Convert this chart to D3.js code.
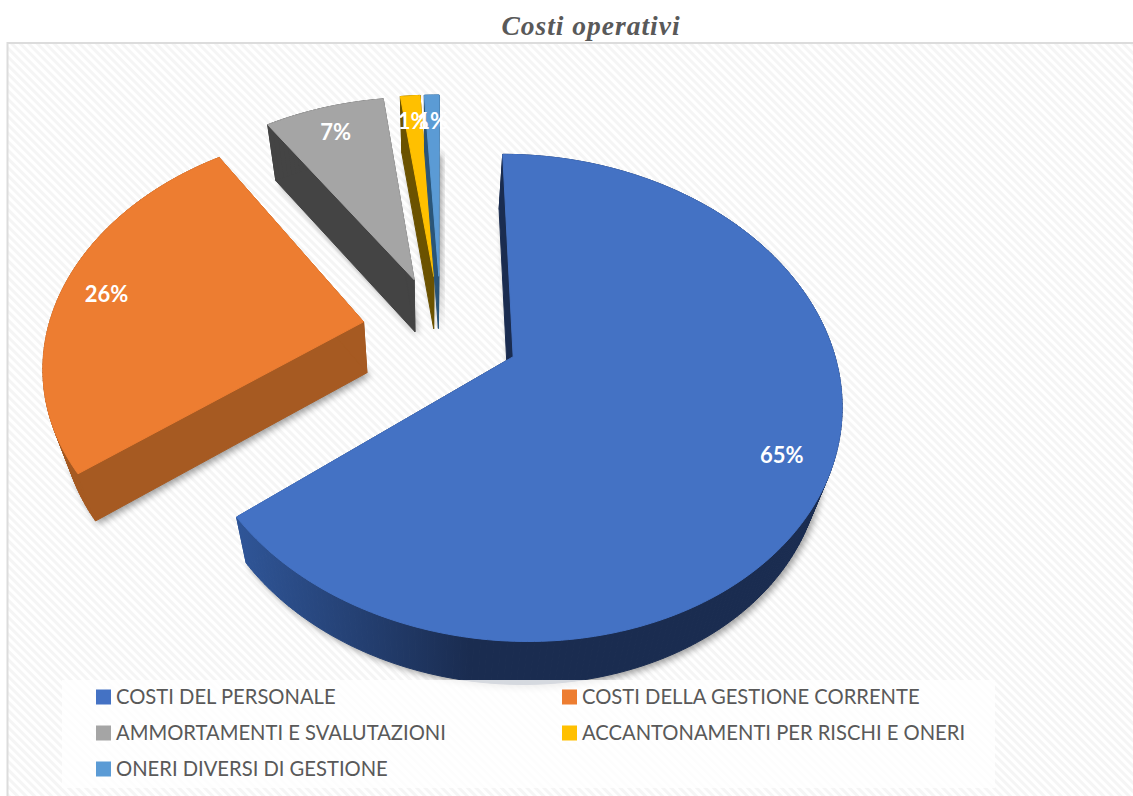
<!DOCTYPE html>
<html><head><meta charset="utf-8">
<script src="https://cdn.jsdelivr.net/npm/d3@7/dist/d3.min.js"></script>
<style>html,body{margin:0;padding:0;background:#fff;overflow:hidden}svg{display:block}</style>
</head><body><svg id="c" width="1133" height="796"></svg>
<script>
const title = "Costi operativi";
const categories = ["COSTI DEL PERSONALE","COSTI DELLA GESTIONE CORRENTE","AMMORTAMENTI E SVALUTAZIONI","ACCANTONAMENTI PER RISCHI E ONERI","ONERI DIVERSI DI GESTIONE"];
const values = [64.6,26.0,7.3,1.2,0.9];
const labels = ["65%","26%","7%","1%","1%"];
const topColors = ["#4472C4","#ED7D31","#A5A5A5","#FFC000","#5B9BD5"];
const wallColors = ["url(#wallBlue)","#A65A22","#444444","#6B5200","#2A5578"];

const svg = d3.select("#c");
const defs = svg.append("defs");
const pat = defs.append("pattern").attr("id","hatch").attr("width",6).attr("height",6)
  .attr("patternUnits","userSpaceOnUse").attr("patternTransform","rotate(-45)");
pat.append("rect").attr("width",6).attr("height",6).attr("fill","#ffffff");
pat.append("rect").attr("width",3).attr("height",6).attr("fill","#f5f5f5");
const grad = defs.append("linearGradient").attr("id","wallBlue").attr("gradientUnits","userSpaceOnUse")
  .attr("x1",240).attr("x2",470).attr("y1",0).attr("y2",0);
grad.append("stop").attr("offset",0).attr("stop-color","#2F5597");
grad.append("stop").attr("offset",1).attr("stop-color","#1A2C50");
defs.append("filter").attr("id","soft").attr("x","-20%").attr("y","-20%").attr("width","140%").attr("height","140%")
  .append("feGaussianBlur").attr("stdDeviation",3.5);

// plot panel
svg.append("rect").attr("x",7.5).attr("y",43).attr("width",1140).attr("height",770)
  .attr("fill","url(#hatch)").attr("stroke","#dcdcdc").attr("stroke-width",2);

svg.append("text").attr("x",591).attr("y",35).attr("text-anchor","middle")
  .attr("font-family","'Liberation Serif',serif").attr("font-style","italic").attr("font-weight","bold")
  .attr("font-size",27.5).attr("letter-spacing",1).attr("fill","#595959").text(title);

// perspective view of the pie plane
const O = {x:441,y:331}, A = 316, B = 228, P = 0.166, EXPLODE = 0.25, LABEL_R = 0.855;
const project = (u,v) => { const w = 1+P*v; return [O.x+A*u/w, O.y-B*v/w]; };
const extrude = ([x,y]) => [x+0.05*(430-x), y+43+(640-y)*0.025];

const arcs = d3.pie().sort(null).startAngle(0).endAngle(2*Math.PI).value(d=>d)(values);
const line = d3.line();
const slices = arcs.map((a,i)=>{
  const mid=(a.startAngle+a.endAngle)/2;
  const cu=EXPLODE*Math.sin(mid), cv=EXPLODE*Math.cos(mid);
  const thetas=d3.range(a.startAngle,a.endAngle,Math.PI/180).concat([a.endAngle]);
  const rim=thetas.map(t=>project(cu+Math.sin(t),cv+Math.cos(t)));
  const outline=[project(cu,cv),...rim];
  const r=LABEL_R;
  return {i,outline,bottom:outline.map(extrude),label:project(cu+r*Math.sin(mid),cv+r*Math.cos(mid))};
});

// soft ground shadow
svg.append("g").selectAll("path").data(slices).join("path")
  .attr("d",d=>line(d.bottom)+"Z").attr("transform","translate(3,3)")
  .attr("fill","#000").attr("opacity",0.38).attr("filter","url(#soft)");

const order=[1,2,3,4,0];
order.forEach(k=>{
  const s=slices[k];
  const g=svg.append("g");
  const n=s.outline.length;
  const quads=d3.range(n).map(j=>{
    const j2=(j+1)%n;
    return [s.outline[j],s.outline[j2],s.bottom[j2],s.bottom[j]];
  });
  g.selectAll("path.w").data(quads).join("path").attr("class","w")
    .attr("d",d=>line(d)+"Z").attr("fill",wallColors[k]).attr("stroke",wallColors[k]).attr("stroke-width",1);
  g.append("path").attr("d",line(s.outline)+"Z").attr("fill",topColors[k])
    .attr("stroke",topColors[k]).attr("stroke-width",1).attr("stroke-linejoin","round");
});

// legend
const lg=svg.append("g");
lg.append("rect").attr("x",62).attr("y",680).attr("width",933).attr("height",108).attr("fill","#fff").attr("fill-opacity",0.82);
const col=d3.scalePoint().domain([0,1]).range([96,562]);
const row=d3.scalePoint().domain([0,1,2]).range([697,769]);
const items=lg.selectAll("g").data(categories).join("g")
  .attr("transform",(d,i)=>`translate(${col(i%2)},${row(Math.floor(i/2))})`);
items.append("rect").attr("x",0).attr("y",-7.5).attr("width",15).attr("height",15).attr("fill",(d,i)=>topColors[i]);
items.append("text").attr("x",20).attr("y",7).attr("font-family","Lato,'Open Sans',sans-serif")
  .attr("font-size",20.2).attr("fill","#595959").text(d=>d);

// data labels
svg.append("g").selectAll("text").data(slices).join("text")
  .attr("x",d=>d.label[0]).attr("y",d=>d.label[1]).attr("dy","0.48em").attr("text-anchor","middle")
  .attr("font-family","Lato,'Open Sans',sans-serif").attr("font-weight","bold").attr("font-size",22)
  .attr("fill","#fff").text(d=>labels[d.i]);
</script></body></html>
